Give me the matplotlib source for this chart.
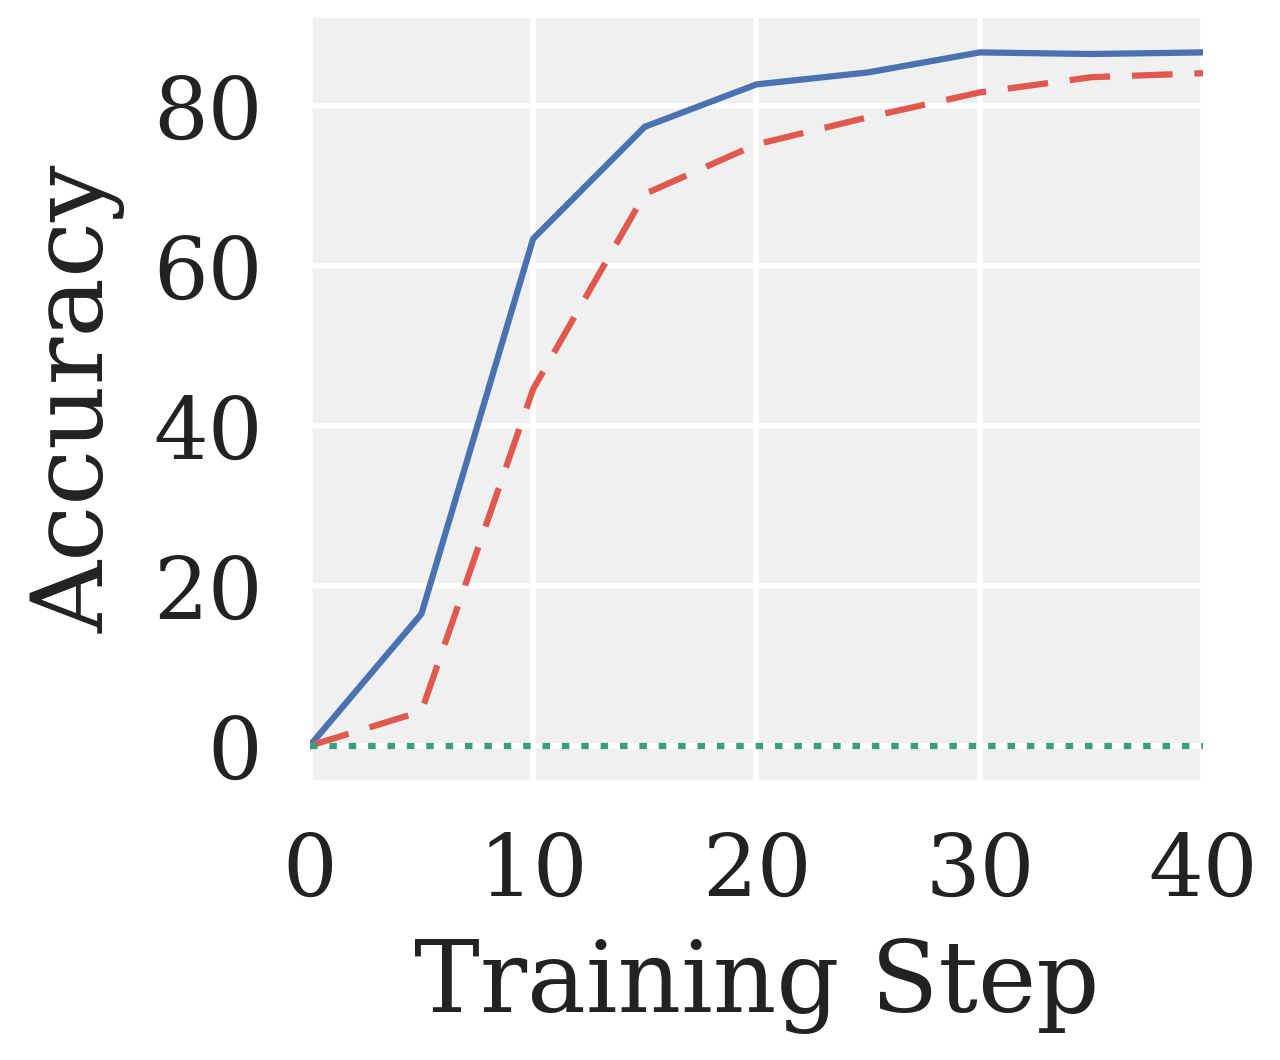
import matplotlib
matplotlib.use('Agg')
import matplotlib.pyplot as plt

# data
steps = [0, 5, 10, 15, 20, 25, 30, 35, 40]
acc_blue = [0, 16.5, 63.4, 77.4, 82.7, 84.2, 86.7, 86.5, 86.7]
acc_red = [0, 4.3, 44.6, 69.0, 75.2, 78.6, 81.7, 83.6, 84.1]
acc_green = [0, 0, 0, 0, 0, 0, 0, 0, 0]

plt.rcParams['font.family'] = 'DejaVu Serif'

fig = plt.figure(figsize=(12.8, 10.6), dpi=100)
ax = fig.add_axes([0.242, 0.264, 0.698, 0.719])
ax.set_facecolor('#f0f0f0')
for s in ax.spines.values():
    s.set_visible(False)

ax.plot(steps, acc_blue, color='#4a72b0', lw=4.5)
ax.plot(steps, acc_red, color='#e0584e', lw=4.5, ls=(0, (6.5, 3.5)))
ax.plot(steps, acc_green, color='#3c9e80', lw=4.5, ls=(0, (1.2, 1.9)))

ax.set_xlim(0, 40)
ax.set_ylim(-4.3, 91)
ax.set_xticks([0, 10, 20, 30, 40])
ax.set_yticks([0, 20, 40, 60, 80])
ax.grid(True, color='white', lw=4)
ax.set_axisbelow(True)
ax.tick_params(length=0, labelsize=62, colors='#222222')
ax.tick_params(axis='x', pad=36)
ax.tick_params(axis='y', pad=34)
ax.set_xlabel('Training Step', fontsize=71, color='#222222', labelpad=18)
ax.set_ylabel('Accuracy', fontsize=72, color='#222222', labelpad=20)

fig.savefig('out.png', dpi=100)
